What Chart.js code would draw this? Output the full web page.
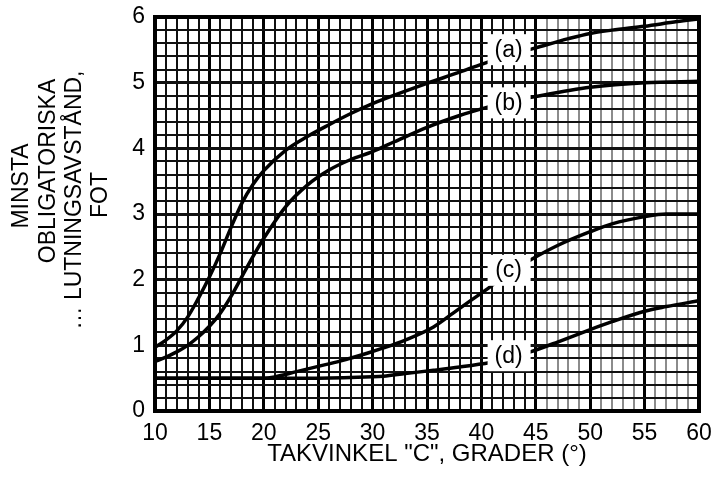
<!DOCTYPE html>
<html><head><meta charset="utf-8">
<script src="https://cdn.jsdelivr.net/npm/chart.js@4/dist/chart.umd.min.js"></script>
<style>html,body{margin:0;padding:0;background:#fff}</style>
</head><body>
<canvas id="c" width="714" height="477"></canvas>
<script>
// ---- data ----
const xTickLabels = [10, 15, 20, 25, 30, 35, 40, 45, 50, 55, 60];
const yTickLabels = [0, 1, 2, 3, 4, 5, 6];

const angleA = [10, 11, 12, 13, 14, 15, 16, 17, 18, 19, 20, 22, 24, 26, 28, 30, 32, 35, 38, 40, 42, 45, 48, 50, 52, 55, 58, 60];
const valueA = [0.97, 1.08, 1.22, 1.43, 1.72, 2.04, 2.4, 2.8, 3.17, 3.45, 3.66, 3.97, 4.18, 4.36, 4.53, 4.68, 4.81, 4.99, 5.16, 5.28, 5.39, 5.53, 5.67, 5.75, 5.8, 5.86, 5.93, 5.97];

const angleB = [10, 11, 12, 13, 14, 15, 16, 17, 18, 19, 20, 22, 24, 26, 28, 30, 32, 35, 38, 40, 42, 45, 50, 55, 60];
const valueB = [0.75, 0.82, 0.9, 1.0, 1.13, 1.29, 1.49, 1.75, 2.05, 2.35, 2.63, 3.11, 3.44, 3.67, 3.83, 3.95, 4.1, 4.32, 4.5, 4.6, 4.69, 4.79, 4.93, 5.0, 5.02];

const angleC = [10, 15, 20, 21, 23, 25, 27, 29.5, 31, 33, 35.6, 37.4, 39, 40.8, 42, 44.5, 47, 50, 52, 55, 57, 60];
const valueC = [0.5, 0.5, 0.5, 0.52, 0.6, 0.68, 0.76, 0.88, 0.96, 1.08, 1.28, 1.49, 1.68, 1.89, 2.05, 2.3, 2.52, 2.73, 2.85, 2.96, 3.0, 3.0];

const angleD = [10, 20, 25, 30, 31, 33, 35.6, 38, 40.8, 42.5, 44.5, 47, 50, 52, 55, 57, 60];
const valueD = [0.5, 0.5, 0.5, 0.52, 0.53, 0.57, 0.62, 0.67, 0.74, 0.8, 0.9, 1.05, 1.24, 1.36, 1.52, 1.59, 1.68];

const curveLabels = ['(a)', '(b)', '(c)', '(d)'];
const labelAngle = [42.5, 42.5, 42.5, 42.5];
const labelValue = [5.51, 4.7, 2.15, 0.85];

const xTitle = 'TAKVINKEL "C", GRADER (°)';
const yTitleLines = ['MINSTA', 'OBLIGATORISKA', '… LUTNINGSAVSTÅND,', 'FOT'];

// ---- helpers ----
const FONT = "'Liberation Sans', Arial, Helvetica, sans-serif";
function pts(xs, ys) { return xs.map((x, i) => ({ x: x, y: ys[i] })); }
function lineDs(xs, ys) {
  return { data: pts(xs, ys), borderColor: '#000', borderWidth: 3.5, pointRadius: 0,
           cubicInterpolationMode: 'monotone', borderCapStyle: 'round', fill: false };
}
const isMajorY = v => Math.abs(v - Math.round(v)) < 1e-6;

const framePlugin = {
  id: 'frame',
  afterDatasetsDraw(chart) {
    const ctx = chart.ctx, a = chart.chartArea;
    const xs = chart.scales.x, ys = chart.scales.y;
    ctx.save();
    ctx.font = '23px ' + FONT;
    ctx.textAlign = 'center';
    ctx.textBaseline = 'middle';
    curveLabels.forEach((t, i) => {
      const px = xs.getPixelForValue(labelAngle[i]);
      const py = ys.getPixelForValue(labelValue[i]);
      ctx.fillStyle = '#fff';
      ctx.fillRect(px - 21, py - 15, 43, 31);
      ctx.fillStyle = '#000';
      ctx.fillText(t, px, py + 1);
    });
    ctx.strokeStyle = '#000';
    ctx.lineWidth = 4;
    ctx.strokeRect(a.left, a.top, a.right - a.left, a.bottom - a.top);
    ctx.restore();
  },
  afterDraw(chart) {
    const ctx = chart.ctx;
    const cx = [22, 49, 75, 101];
    const cy = [186, 171, 200, 195];
    ctx.save();
    ctx.font = '23px ' + FONT;
    ctx.fillStyle = '#000';
    ctx.textAlign = 'center';
    ctx.textBaseline = 'middle';
    yTitleLines.forEach((t, i) => {
      ctx.save();
      ctx.translate(cx[i], cy[i]);
      ctx.rotate(-Math.PI / 2);
      ctx.fillText(t, 0, 0);
      ctx.restore();
    });
    ctx.restore();
  }
};

new Chart(document.getElementById('c'), {
  type: 'line',
  data: { datasets: [lineDs(angleA, valueA), lineDs(angleB, valueB), lineDs(angleC, valueC), lineDs(angleD, valueD)] },
  options: {
    responsive: false,
    animation: false,
    events: [],
    layout: { padding: { left: 0, right: 15, top: 17, bottom: 0 } },
    plugins: { legend: { display: false }, tooltip: { enabled: false } },
    scales: {
      x: {
        type: 'linear', min: 10, max: 60,
        afterBuildTicks: s => { const t = []; for (let v = 10; v <= 60; v++) t.push({ value: v }); s.ticks = t; },
        afterFit: s => { s.height = 66; s.paddingLeft = 0; s.paddingRight = 0; },
        ticks: { autoSkip: false, maxRotation: 0, padding: 9, color: '#000',
                 font: { family: FONT, size: 23 },
                 callback: v => xTickLabels.includes(v) ? String(v) : '' },
        grid: { drawTicks: false,
                color: c => (c.tick && xTickLabels.includes(c.tick.value)) ? '#000' : (c.tick && c.tick.value > 45 ? '#8c8c8c' : '#111'),
                lineWidth: c => (c.tick && xTickLabels.includes(c.tick.value)) ? 3 : 2 },
        border: { display: false },
        title: { display: true, text: xTitle, color: '#000', font: { family: FONT, size: 24 }, padding: { top: 0, bottom: 8 } }
      },
      y: {
        type: 'linear', min: 0, max: 6,
        afterBuildTicks: s => { const t = []; for (let i = 0; i <= 30; i++) t.push({ value: i / 5 }); s.ticks = t; },
        afterFit: s => { s.width = 155; s.paddingTop = 0; s.paddingBottom = 0; },
        ticks: { autoSkip: false, padding: 10, color: '#000',
                 font: { family: FONT, size: 23 },
                 callback: v => (isMajorY(v) && yTickLabels.includes(Math.round(v))) ? String(Math.round(v)) : '' },
        grid: { drawTicks: false,
                color: c => '#111',
                lineWidth: c => (c.tick && isMajorY(c.tick.value)) ? 3 : 2 },
        border: { display: false }
      }
    }
  },
  plugins: [framePlugin]
});
</script>
</body></html>
